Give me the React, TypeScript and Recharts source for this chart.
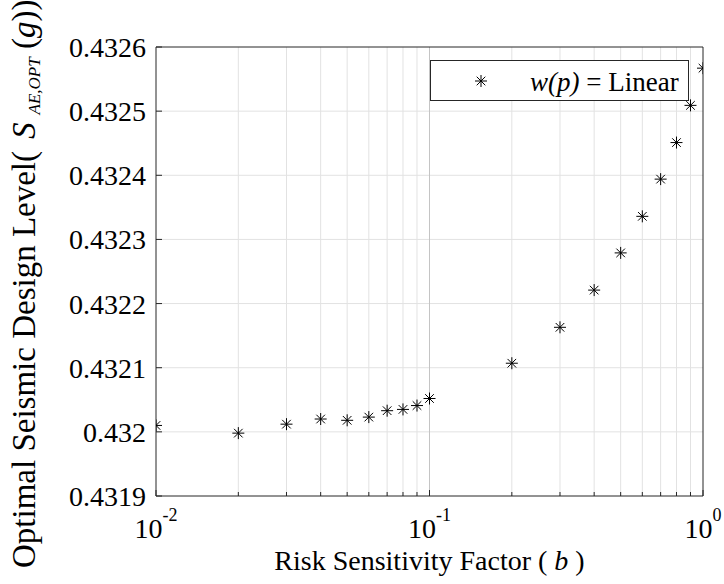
import { ScatterChart, Scatter, XAxis, YAxis, ReferenceLine } from "recharts";

// risk sensitivity factor b (log axis) and optimal design level S_AE,OPT (g)
const riskFactors = [
  0.01, 0.02, 0.03, 0.04, 0.05, 0.06, 0.07, 0.08, 0.09, 0.1,
  0.2, 0.3, 0.4, 0.5, 0.6, 0.7, 0.8, 0.9, 1,
];
const designLevels = [
  0.43201, 0.431998, 0.432012, 0.43202, 0.432018, 0.432023, 0.432033, 0.432035, 0.432041, 0.432052,
  0.432107, 0.432163, 0.432221, 0.432279, 0.432336, 0.432394, 0.432451, 0.432509, 0.432567,
];

const xTicks = [
  0.01, 0.02, 0.03, 0.04, 0.05, 0.06, 0.07, 0.08, 0.09, 0.1,
  0.2, 0.3, 0.4, 0.5, 0.6, 0.7, 0.8, 0.9, 1,
];
const xMajorTicks = [0.01, 0.1, 1];
const xMajorLabels = ["-2", "-1", "0"];
const xMinorGrid = [
  0.02, 0.03, 0.04, 0.05, 0.06, 0.07, 0.08, 0.09,
  0.2, 0.3, 0.4, 0.5, 0.6, 0.7, 0.8, 0.9,
];
const xMajorGrid = [0.1];
const yTicks = [0.4319, 0.432, 0.4321, 0.4322, 0.4323, 0.4324, 0.4325, 0.4326];
const yGrid = [0.432, 0.4321, 0.4322, 0.4323, 0.4324, 0.4325];
const xDomain = [0.01, 1];
const yDomain = [0.4319, 0.4326];

const seriesName = "Linear";

const points = riskFactors.map((b, i) => ({ b, s: designLevels[i] }));

const FONT = "'Liberation Serif', 'Times New Roman', Times, serif";
const INK = "#262626";

function Asterisk({ cx, cy }: { cx?: number; cy?: number }) {
  if (cx == null || cy == null) return null;
  const r = 6;
  const d = 4.3;
  return (
    <g stroke="#000" strokeWidth={1}>
      <line x1={cx - r} y1={cy} x2={cx + r} y2={cy} />
      <line x1={cx} y1={cy - r} x2={cx} y2={cy + r} />
      <line x1={cx - d} y1={cy - d} x2={cx + d} y2={cy + d} />
      <line x1={cx - d} y1={cy + d} x2={cx + d} y2={cy - d} />
    </g>
  );
}

function LeftTick({ x, y, payload }: any) {
  return (
    <g>
      <line x1={x + 10} x2={x + 16} y1={y} y2={y} stroke={INK} />
      <text
        x={x}
        y={y + 10}
        textAnchor="end"
        fontSize={28}
        fontFamily={FONT}
        style={{ fontFamily: FONT }}
        fill="#000"
      >
        {String(payload.value)}
      </text>
    </g>
  );
}

function BottomTick({ x, y, payload }: any) {
  const idx = xMajorTicks.indexOf(payload.value);
  const major = idx >= 0;
  return (
    <g>
      <line x1={x} x2={x} y1={y} y2={y - (major ? 6 : 4)} stroke={INK} />
      {major && (
        <text
          x={x}
          y={y + 42}
          textAnchor="middle"
          fontSize={28}
          fontFamily={FONT}
          style={{ fontFamily: FONT }}
          fill="#000"
        >
          10
          <tspan dy={-17} fontSize={18}>
            {xMajorLabels[idx]}
          </tspan>
        </text>
      )}
    </g>
  );
}

function TopTick({ x, y, payload }: any) {
  const major = xMajorTicks.includes(payload.value);
  return <line x1={x} x2={x} y1={y} y2={y + (major ? 6 : 4)} stroke={INK} />;
}

function RightTick({ x, y }: any) {
  return <line x1={x} x2={x - 6} y1={y} y2={y} stroke={INK} />;
}

function YTitle() {
  return (
    <text
      transform="rotate(-90)"
      x={-568}
      y={35}
      textAnchor="start"
      fontSize={33}
      fontFamily={FONT}
      style={{ fontFamily: FONT }}
      fill="#000"
    >
      Optimal Seismic Design Level(
      <tspan dx={12} fontStyle="italic">
        S
      </tspan>
      <tspan dx={8} dy={5} fontSize={17} fontStyle="italic">
        AE,OPT
      </tspan>
      <tspan dy={-5}> (</tspan>
      <tspan fontStyle="italic">g</tspan>
      <tspan>))</tspan>
    </text>
  );
}

function XTitle() {
  return (
    <text
      x={429.5}
      y={570}
      textAnchor="middle"
      fontSize={28}
      fontFamily={FONT}
      style={{ fontFamily: FONT }}
      fill="#000"
    >
      Risk Sensitivity Factor (
      <tspan fontStyle="italic"> b </tspan>)
    </text>
  );
}

function LegendBox() {
  return (
    <svg width={260} height={42} style={{ position: "absolute", left: 430, top: 60 }}>
      <rect x={0.5} y={0.5} width={258} height={40} fill="#fff" stroke={INK} />
      <Asterisk cx={51} cy={21} />
      <text x={100} y={31} fontSize={27} fontFamily={FONT} style={{ fontFamily: FONT }} fill="#000">
        <tspan fontStyle="italic">w(p)</tspan> = {seriesName}
      </text>
    </svg>
  );
}

export default function App() {
  return (
    <div
      style={{
        position: "absolute",
        left: 0,
        top: 0,
        width: 724,
        height: 584,
        background: "#fff",
        fontFamily: FONT,
      }}
    >
      <ScatterChart width={724} height={584} margin={{ top: 47, right: 21, bottom: 0, left: 0 }}>
        <XAxis
          dataKey="b"
          type="number"
          scale="log"
          domain={xDomain}
          ticks={xTicks}
          interval={0}
          allowDataOverflow
          height={88}
          tickSize={0}
          tickMargin={0}
          tick={<BottomTick />}
          axisLine={{ stroke: INK }}
          label={<XTitle />}
        />
        <XAxis
          xAxisId="top"
          orientation="top"
          type="number"
          scale="log"
          domain={xDomain}
          ticks={xTicks}
          interval={0}
          allowDataOverflow
          height={0}
          tickSize={0}
          tickMargin={0}
          tick={<TopTick />}
          axisLine={{ stroke: INK }}
        />
        <YAxis
          dataKey="s"
          type="number"
          domain={yDomain}
          ticks={yTicks}
          interval={0}
          allowDataOverflow
          width={156}
          tickSize={0}
          tickMargin={10}
          tick={<LeftTick />}
          axisLine={{ stroke: INK }}
          label={<YTitle />}
        />
        <YAxis
          yAxisId="right"
          orientation="right"
          type="number"
          domain={yDomain}
          ticks={yTicks}
          interval={0}
          allowDataOverflow
          width={0}
          tickSize={0}
          tickMargin={0}
          tick={<RightTick />}
          axisLine={{ stroke: INK }}
        />
        {yGrid.map((v) => (
          <ReferenceLine key={`y-${v}`} y={v} stroke="#e2e2e2" strokeWidth={1} />
        ))}
        {xMinorGrid.map((v) => (
          <ReferenceLine key={`xm-${v}`} x={v} stroke="#e2e2e2" strokeWidth={1} />
        ))}
        {xMajorGrid.map((v) => (
          <ReferenceLine key={`xM-${v}`} x={v} stroke="#c4c4c4" strokeWidth={1} />
        ))}
        {/* box frame on the far domain edges */}
        <ReferenceLine y={yDomain[1]} stroke={INK} strokeWidth={1} />
        <ReferenceLine x={xDomain[1]} stroke={INK} strokeWidth={1} />
        <Scatter name={seriesName} data={points} shape={<Asterisk />} isAnimationActive={false} />
      </ScatterChart>
      <LegendBox />
    </div>
  );
}
